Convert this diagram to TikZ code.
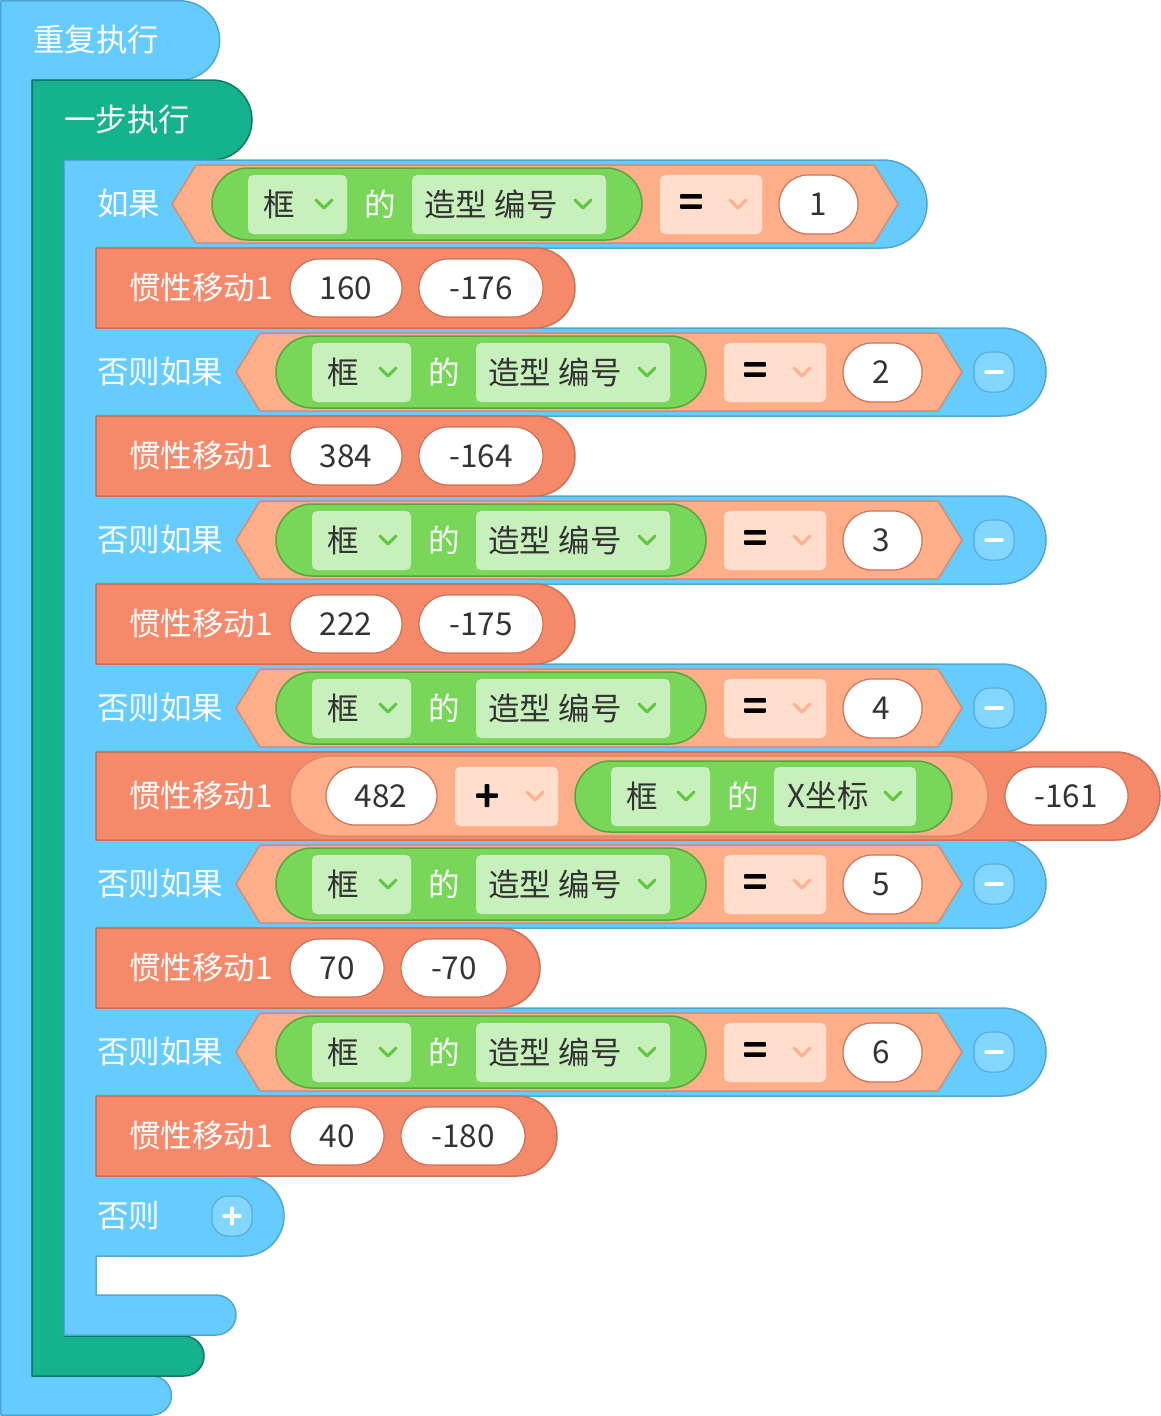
\documentclass[tikz,border=0pt]{standalone}
\usepackage{fontspec}
\setmainfont{Noto Sans CJK SC}
\newfontfamily\opfont{Noto Sans CJK SC}[FakeBold=4]
\usepackage{xcolor}
\definecolor{loopBlue}{RGB}{102,204,255}
\definecolor{blueEdge}{RGB}{82,166,212}
\definecolor{btnBlue}{RGB}{130,214,255}
\definecolor{stepGreen}{RGB}{21,179,141}
\definecolor{stepEdge}{RGB}{14,122,94}
\definecolor{moveRed}{RGB}{247,137,107}
\definecolor{moveEdge}{RGB}{204,112,86}
\definecolor{condOrange}{RGB}{255,174,138}
\definecolor{condEdge}{RGB}{214,140,106}
\definecolor{propGreen}{RGB}{120,214,88}
\definecolor{propEdge}{RGB}{86,166,60}
\definecolor{ddGreen}{RGB}{200,240,188}
\definecolor{ddPeach}{RGB}{255,222,206}
\definecolor{chevGreen}{RGB}{96,200,64}
\definecolor{chevPeach}{RGB}{255,176,140}
\definecolor{textGray}{RGB}{51,51,51}

\newcommand{\chevron}[3]{\draw[chev, draw=#3] (#1-8,#2-4) -- (#1,#2+4) -- (#1+8,#2-4);}

\begin{document}
\begin{tikzpicture}[x=1pt, y=-1pt, line join=round,
    font=\fontsize{31.5}{37}\selectfont,
    blueblk/.style={fill=loopBlue, draw=blueEdge, line width=1.5pt},
    stepblk/.style={fill=stepGreen, draw=stepEdge, line width=1.5pt},
    moveblk/.style={fill=moveRed, draw=moveEdge, line width=1.5pt},
    cond/.style={fill=condOrange, draw=condEdge, line width=1.5pt},
    prop/.style={fill=propGreen, draw=propEdge, line width=1.5pt, rounded corners=36pt},
    oval/.style={fill=white, draw=moveEdge, line width=1.2pt, rounded corners=29pt},
    ddbox/.style={rounded corners=5pt},
    btn/.style={fill=btnBlue, draw=blueEdge, line width=1pt, rounded corners=16pt},
    chev/.style={line width=3pt, line cap=round},
    whitetext/.style={text=white, anchor=west, inner sep=0pt},
    darktext/.style={text=textGray, inner sep=0pt},
    optext/.style={text=black, inner sep=0pt, yshift=-2pt, font=\opfont\fontsize{42}{46}\selectfont}]
    \useasboundingbox (0,0) rectangle (1161,1416);

    % outer loop
    \draw[blueblk] (0.8,0.8) -- (180,0.8) arc[start angle=-90, end angle=90, radius=39.6]
        -- (32,80) -- (32,1376) -- (152,1376) arc[start angle=-90, end angle=90, radius=19.5]
        -- (0.8,1415) -- cycle;
    \node[whitetext] (repeat) at (33,40) {重复执行};

    % step block
    \draw[stepblk] (32,80) -- (212,80) arc[start angle=-90, end angle=90, radius=40]
        -- (64,160) -- (64,1336) -- (184,1336) arc[start angle=-90, end angle=90, radius=20]
        -- (32,1376) -- cycle;
    \node[whitetext] (step) at (64,120) {一步执行};

    % if / else if / else block
    \draw[blueblk] (64,160) -- (883,160) arc[start angle=-90, end angle=90, radius=44]
        -- (96,248) -- (96,328)
        -- (1002,328) arc[start angle=-90, end angle=90, radius=44] -- (96,416) -- (96,496)
        -- (1002,496) arc[start angle=-90, end angle=90, radius=44] -- (96,584) -- (96,664)
        -- (1002,664) arc[start angle=-90, end angle=90, radius=44] -- (96,752) -- (96,840)
        -- (1002,840) arc[start angle=-90, end angle=90, radius=44] -- (96,928) -- (96,1008)
        -- (1002,1008) arc[start angle=-90, end angle=90, radius=44] -- (96,1096) -- (96,1176)
        -- (244,1176) arc[start angle=-90, end angle=90, radius=40] -- (96,1256) -- (96,1295)
        -- (216,1295) arc[start angle=-90, end angle=90, radius=20] -- (64,1335) -- cycle;

    % if row
    \node[whitetext] (if) at (97,204) {如果};
    \draw[cond] (172,204) -- (196,165) -- (874,165) -- (898,204) -- (874,243) -- (196,243) -- cycle;
    \draw[prop] (212,168) rectangle (642,240);
    \fill[ddGreen, ddbox] (248,175) rectangle (347,234);
    \node[darktext] (obj1) at (279,204) {框};
    \chevron{324}{204}{chevGreen}
    \node[whitetext] (of1) at (364,204) {的};
    \fill[ddGreen, ddbox] (412,175) rectangle (606,234);
    \node[darktext] (attr1) at (491,204) {造型 编号};
    \chevron{583}{204}{chevGreen}
    \fill[ddPeach, ddbox] (660,175) rectangle (762,234);
    \node[optext] (eq1) at (691,204) {=};
    \chevron{738}{204}{chevPeach}
    \draw[oval] (779,175) rectangle (858,234);
    \node[darktext] (num1) at (818,204) {1};

    % else if rows
    \foreach \t/\n in {328/2, 496/3, 664/4, 840/5, 1008/6} {
        \node[whitetext] (elif\n) at (97,\t+44) {否则如果};
        \draw[cond] (236,\t+44) -- (260,\t+5) -- (938,\t+5) -- (962,\t+44) -- (938,\t+83) -- (260,\t+83) -- cycle;
        \draw[prop] (276,\t+8) rectangle (706,\t+80);
        \fill[ddGreen, ddbox] (312,\t+15) rectangle (411,\t+74);
        \node[darktext] (obj\n) at (343,\t+44) {框};
        \chevron{388}{\t+44}{chevGreen}
        \node[whitetext] (of\n) at (428,\t+44) {的};
        \fill[ddGreen, ddbox] (476,\t+15) rectangle (670,\t+74);
        \node[darktext] (attr\n) at (555,\t+44) {造型 编号};
        \chevron{647}{\t+44}{chevGreen}
        \fill[ddPeach, ddbox] (724,\t+15) rectangle (826,\t+74);
        \node[optext] (eq\n) at (755,\t+44) {=};
        \chevron{802}{\t+44}{chevPeach}
        \draw[oval] (843,\t+15) rectangle (922,\t+74);
        \node[darktext] (num\n) at (881,\t+44) {\n};
        \draw[btn] (974,\t+24) rectangle (1014,\t+64);
        \draw[white, line width=3.5pt, line cap=round] (986,\t+44) -- (1002,\t+44);
    }

    % move blocks
    \foreach \t/\r/\vA/\eA/\vB/\sB/\eB in {248/575/160/402/-176/419/543,
            416/575/384/402/-164/419/543, 584/575/222/402/-175/419/543,
            928/540/70/384/-70/401/507, 1096/557/40/384/-180/401/525} {
        \draw[moveblk] (96,\t) -- (\r-40,\t) arc[start angle=-90, end angle=90, radius=40]
            -- (96,\t+80) -- cycle;
        \node[whitetext] (move\t) at (129,\t+40) {惯性移动1};
        \draw[oval] (290,\t+11) rectangle (\eA,\t+69);
        \node[darktext] (dx\t) at ({(290+\eA)/2},\t+40) {\vA};
        \draw[oval] (\sB,\t+11) rectangle (\eB,\t+69);
        \node[darktext] (dy\t) at ({(\sB+\eB)/2},\t+40) {\vB};
    }

    % wide move block
    \draw[moveblk] (96,752) -- (1116,752) arc[start angle=-90, end angle=90, radius=44]
        -- (96,840) -- cycle;
    \node[whitetext] (move752) at (129,796) {惯性移动1};
    \draw[cond, rounded corners=40pt] (290,756) rectangle (988,836);
    \draw[oval] (326,767) rectangle (437,825);
    \node[darktext] (dx752) at (381,796) {482};
    \fill[ddPeach, ddbox] (455,767) rectangle (558,826);
    \node[optext] (plus752) at (487,796) {+};
    \chevron{535}{796}{chevPeach}
    \draw[prop, rounded corners=35.5pt] (575,761) rectangle (952,832);
    \fill[ddGreen, ddbox] (611,767) rectangle (710,826);
    \node[darktext] (obj752) at (642,796) {框};
    \chevron{686}{796}{chevGreen}
    \node[whitetext] (of752) at (727,796) {的};
    \fill[ddGreen, ddbox] (774,767) rectangle (916,826);
    \node[darktext] (attr752) at (828,796) {X坐标};
    \chevron{893}{796}{chevGreen}
    \draw[oval] (1005,767) rectangle (1128,825);
    \node[darktext] (dy752) at (1066,796) {-161};

    % else row
    \node[whitetext] (else) at (97,1216) {否则};
    \draw[btn] (212,1196) rectangle (252,1236);
    \draw[white, line width=3.5pt, line cap=round] (224,1216) -- (240,1216) (232,1208) -- (232,1224);
\end{tikzpicture}
\end{document}
